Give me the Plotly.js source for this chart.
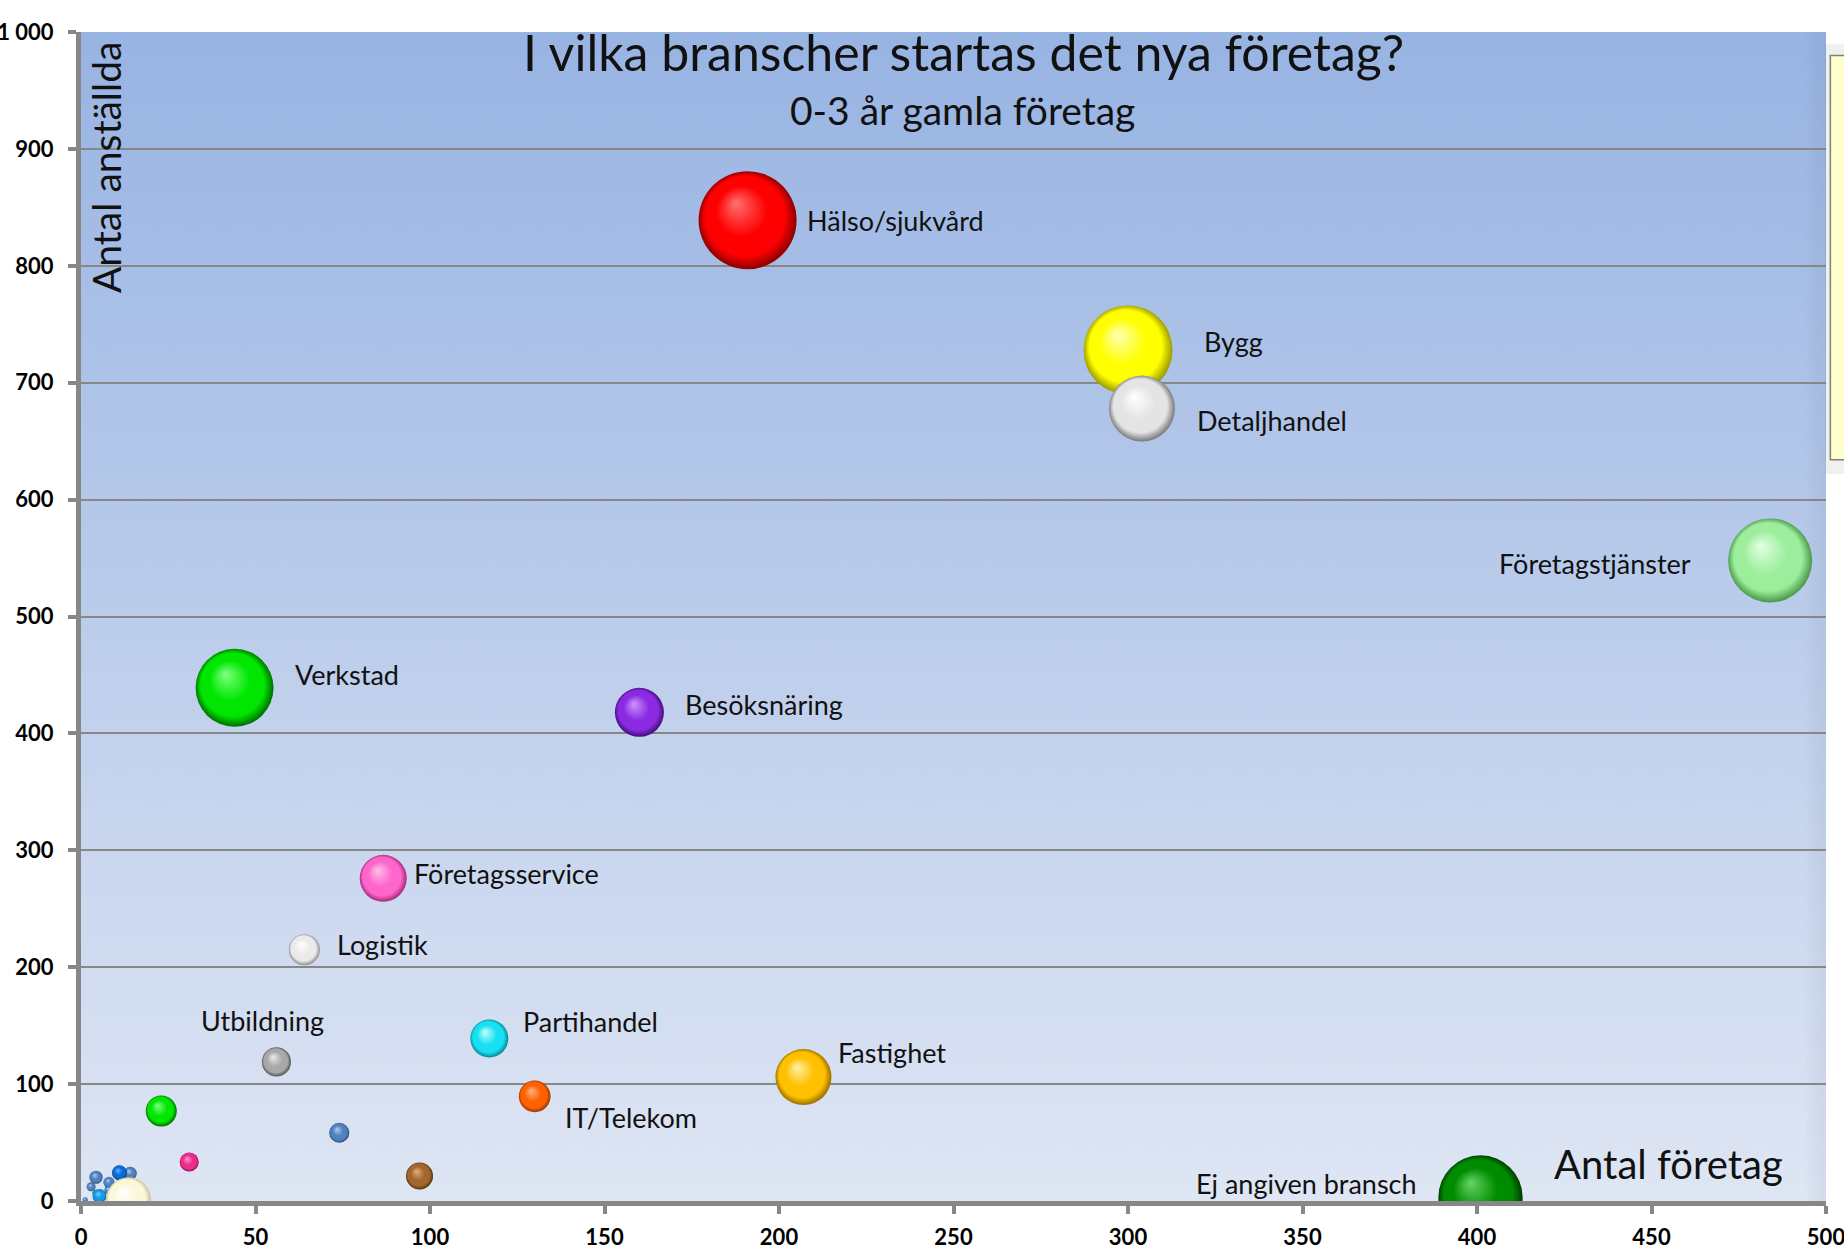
<!DOCTYPE html>
<html>
<head>
<meta charset="utf-8">
<script src="https://cdn.plot.ly/plotly-3.0.1.min.js"></script>
<style>html,body{margin:0;padding:0;background:#fff;}#chart{width:1844px;height:1253px;}</style>
</head>
<body>
<div id="chart"></div>
<script>
// ---- Data ----
const categories = ["Hälso/sjukvård","Bygg","Detaljhandel","Företagstjänster","Verkstad","Besöksnäring",
  "Företagsservice","Logistik","Utbildning","Partihandel","IT/Telekom","Fastighet","Ej angiven bransch",
  "","","","","","","","","","","","","",""];
// Antal företag (x)
const antalForetag = [191, 300, 304, 484, 44, 160, 86.6, 64, 56, 117, 130, 207, 401,
  23, 31, 74, 97, 4.3, 8.0, 2.9, 7.9, 4.3, 1.2, 14.1, 11.0, 5.3, 13.6];
// Antal anställda (y)
const antalAnstallda = [839, 728, 678, 548, 439, 418, 276, 215, 119, 139, 89.5, 106, 3,
  77, 33.4, 58.4, 21.4, 20.3, 16.0, 12.2, 9.4, 6.6, 1.1, 23.7, 24.2, 4.3, 1];
// Bubble size value
const bubbleSize = [100, 82.5, 45.4, 73.5, 63.3, 25, 23, 10, 8.8, 15, 10.5, 32.7, 74,
  10, 3.8, 4.2, 7.6, 1.8, 1.26, 0.84, 0.67, 0.51, 0.26, 1.8, 2.3, 2.0, 21.1];
const xTickVals = [0,50,100,150,200,250,300,350,400,450,500];
const yTickVals = [0,100,200,300,400,500,600,700,800,900,1000];
const yTickText = ["0","100","200","300","400","500","600","700","800","900","1 000"];

// ---- Styles ----
const highlightColors = ["#ff7070","#ffffb8","#ffffff","#e4ffe4","#80ff80","#cc96ff","#ffc0ea","#ffffff","#ececec",
  "#c8ffff","#ffb488","#fff0a8","#66d466",
  "#80ff80","#ff98cc","#b0ccf2","#e4ae80","#b0ccf2","#b0ccf2","#b0ccf2","#b0ccf2","#b0ccf2","#b0ccf2","#b0ccf2",
  "#66b4ff","#78d0ff","#ffffff"];
const mainColors = ["#ff0000","#ffff00","#e4e4e4","#9cee9c","#00e600","#8a2be2","#ff66cc","#eaeaea","#a8a8a8",
  "#18e0f0","#ff6000","#ffc000","#008c00",
  "#00e600","#ec2c8c","#4f81bd","#a0682c","#4f81bd","#4f81bd","#4f81bd","#4f81bd","#4f81bd","#4f81bd","#4f81bd",
  "#0a6ad8","#109ae8","#fbf8d8"];
const edgeColors = ["#7a0000","#8a8a00","#686868","#3c8a3c","#005c00","#380868","#961e6a","#808080","#484848",
  "#00788a","#883000","#886200","#002e00",
  "#005c00","#880a4e","#22406e","#4a2a08","#22406e","#22406e","#22406e","#22406e","#22406e","#22406e","#22406e",
  "#002e6a","#004a80","#bcb888"];
const labelFont = {family: 'Lato, "Open Sans", sans-serif', size: 27, color: '#111'};
// label offsets (px) relative to bubble centre
const labelDx = [57, 74, 53, -77, 58, 44, 29, 31, -14, 32, 28, 33, -61];
const labelDy = [0, -8, 12, 3, -13, -8, -5, -5, -41, -17, 21, -25, -14];
const labelAnchor = ["left","left","left","right","left","left","left","left","center","left","left","left","right"];

const maxDiam = 98;
const sizeref = 2 * Math.max(...bubbleSize) / (maxDiam * maxDiam);

// gradient background for plot area
function bgImage() {
  const c = document.createElement('canvas');
  c.width = 200; c.height = 400;
  const ctx = c.getContext('2d');
  const g = ctx.createLinearGradient(0, 0, 0, 400);
  g.addColorStop(0, '#98b4e3');
  g.addColorStop(1, '#dfe6f4');
  ctx.fillStyle = g; ctx.fillRect(0, 0, 200, 400);
  const g2 = ctx.createLinearGradient(0, 0, 200, 0);
  g2.addColorStop(0.988, 'rgba(0,0,0,0)');
  g2.addColorStop(1, 'rgba(60,80,120,0.08)');
  ctx.fillStyle = g2; ctx.fillRect(0, 0, 200, 400);
  return c.toDataURL('image/png');
}

const trace = {
  type: 'scatter', mode: 'markers',
  x: antalForetag, y: antalAnstallda,
  marker: {
    size: bubbleSize, sizemode: 'area', sizeref: sizeref,
    color: edgeColors,
    gradient: {type: 'radial', color: highlightColors},
    line: {width: 0}, opacity: 1
  },
  hoverinfo: 'skip', showlegend: false, cliponaxis: true
};

const annotations = [];
categories.forEach((c, i) => {
  if (!c) return;
  annotations.push({
    x: antalForetag[i], y: antalAnstallda[i], xref: 'x', yref: 'y', text: c, showarrow: false,
    xanchor: labelAnchor[i], yanchor: 'middle', xshift: labelDx[i], yshift: -labelDy[i], font: labelFont
  });
});
annotations.push(
  {xref: 'paper', yref: 'paper', x: 0.506, y: 0.983, text: 'I vilka branscher startas det nya företag?',
   showarrow: false, xanchor: 'center', yanchor: 'middle', font: {family: 'Lato, sans-serif', size: 50, color: '#111'}},
  {xref: 'paper', yref: 'paper', x: 0.505, y: 0.933, text: '0-3 år gamla företag',
   showarrow: false, xanchor: 'center', yanchor: 'middle', font: {family: 'Lato, sans-serif', size: 39, color: '#111'}},
  {xref: 'paper', yref: 'paper', x: 0.0143, y: 0.8845, text: 'Antal anställda', textangle: -90,
   showarrow: false, xanchor: 'center', yanchor: 'middle', font: {family: 'Lato, sans-serif', size: 39, color: '#111'}},
  {xref: 'paper', yref: 'paper', x: 0.910, y: 0.0317, text: 'Antal företag',
   showarrow: false, xanchor: 'center', yanchor: 'middle', font: {family: 'Lato, sans-serif', size: 40, color: '#111'}}
);

const tickFont = {family: 'Lato, sans-serif', size: 22, color: '#000', weight: 'bold'};

const layout = {
  width: 1844, height: 1253,
  margin: {l: 81, r: 18, t: 32, b: 52},
  paper_bgcolor: '#ffffff', plot_bgcolor: '#c0d0ec',
  font: {family: 'Lato, sans-serif'},
  xaxis: {
    range: [0, 500], tickvals: xTickVals, ticktext: xTickVals.map(String),
    showgrid: false, zeroline: false, showline: true, linecolor: '#878787', linewidth: 5,
    ticks: 'outside', ticklen: 8, tickwidth: 4, tickcolor: '#878787', tickfont: tickFont,
    ticklabelstandoff: 5, ticklabeloverflow: 'allow', fixedrange: true
  },
  yaxis: {
    range: [0, 1000], tickvals: yTickVals, ticktext: yTickText,
    showgrid: true, gridcolor: '#878787', gridwidth: 2, zeroline: false,
    showline: true, linecolor: '#878787', linewidth: 5,
    ticks: 'outside', ticklen: 8, tickwidth: 4, tickcolor: '#878787', tickfont: tickFont,
    ticklabelstandoff: 10, ticklabeloverflow: 'allow', fixedrange: true
  },
  images: [{source: bgImage(), xref: 'paper', yref: 'paper', x: 0, y: 1, sizex: 1, sizey: 1,
            sizing: 'stretch', layer: 'below'}],
  shapes: [
    {type: 'rect', xref: 'paper', yref: 'paper', x0: 0.9995, x1: 1.06, y0: 0.622, y1: 0.99,
     fillcolor: 'rgba(0,0,0,0.06)', line: {width: 0}},
    {type: 'rect', xref: 'paper', yref: 'paper', x0: 1.0025, x1: 1.06, y0: 0.634, y1: 0.980,
     fillcolor: '#ffffcc', line: {color: '#808080', width: 1.5}}
  ],
  annotations: annotations,
  showlegend: false
};

Plotly.newPlot('chart', [trace], layout, {displayModeBar: false, staticPlot: true}).then(() => {
  document.querySelectorAll('radialGradient').forEach(g => {
    const id = g.getAttribute('id') || '';
    const m = id.match(/-(\d+)$/);
    if (!m) return;
    const i = parseInt(m[1], 10);
    if (i >= mainColors.length) return;
    g.setAttribute('fx', '38%'); g.setAttribute('fy', '32%');
    g.setAttribute('cx', '50%'); g.setAttribute('cy', '50%'); g.setAttribute('r', '52%');
    const stops = Array.from(g.querySelectorAll('stop'));
    if (stops.length < 2) return;
    stops.sort((a,b) => parseFloat(a.getAttribute('offset')) - parseFloat(b.getAttribute('offset')));
    stops[0].setAttribute('stop-color', highlightColors[i]);
    stops[stops.length-1].setAttribute('stop-color', edgeColors[i]);
    const mid = document.createElementNS('http://www.w3.org/2000/svg', 'stop');
    mid.setAttribute('offset', '50%'); mid.setAttribute('stop-color', mainColors[i]);
    g.insertBefore(mid, stops[stops.length-1]);
    const mid2 = document.createElementNS('http://www.w3.org/2000/svg', 'stop');
    mid2.setAttribute('offset', '78%'); mid2.setAttribute('stop-color', mainColors[i]);
    g.insertBefore(mid2, stops[stops.length-1]);
  });
});
</script>
</body>
</html>
